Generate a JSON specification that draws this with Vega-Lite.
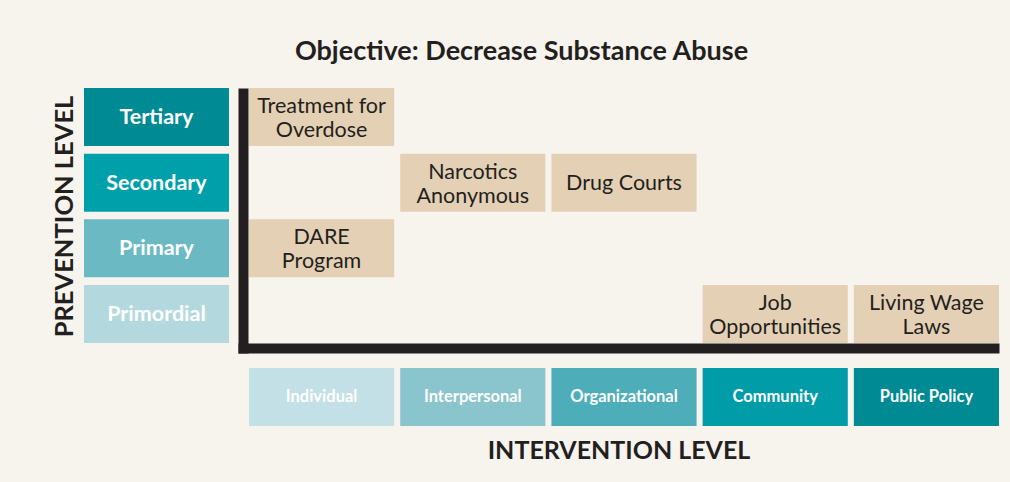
{
  "$schema": "https://vega.github.io/schema/vega-lite/v6.json",
  "width": 761,
  "height": 265,
  "autosize": {"type": "none"},
  "padding": {"left": 238, "top": 88, "right": 11, "bottom": 129},
  "background": "#f7f4ee",
  "config": {"view": {"stroke": null}, "font": "Lato"},
  "title": {
    "text": "Objective: Decrease Substance Abuse",
    "font": "Lato",
    "fontSize": 27,
    "fontWeight": "bold",
    "color": "#231f20",
    "anchor": "middle",
    "dx": -97,
    "offset": 22
  },
  "datasets": {
    "cells": [
      {"intervention": "Individual", "prevention": "Tertiary", "label": "Treatment for\nOverdose"},
      {"intervention": "Interpersonal", "prevention": "Secondary", "label": "Narcotics\nAnonymous"},
      {"intervention": "Organizational", "prevention": "Secondary", "label": "Drug Courts"},
      {"intervention": "Individual", "prevention": "Primary", "label": "DARE\nProgram"},
      {"intervention": "Community", "prevention": "Primordial", "label": "Job\nOpportunities"},
      {"intervention": "Public Policy", "prevention": "Primordial", "label": "Living Wage\nLaws"}
    ],
    "prevention": [
      {"level": "Tertiary"},
      {"level": "Secondary"},
      {"level": "Primary"},
      {"level": "Primordial"}
    ],
    "intervention": [
      {"level": "Individual"},
      {"level": "Interpersonal"},
      {"level": "Organizational"},
      {"level": "Community"},
      {"level": "Public Policy"}
    ]
  },
  "layer": [
    {
      "data": {"name": "cells"},
      "encoding": {
        "x": {
          "field": "intervention",
          "type": "nominal",
          "scale": {
            "domain": ["Individual", "Interpersonal", "Organizational", "Community", "Public Policy"],
            "paddingInner": 0.04,
            "paddingOuter": 0.0364,
            "align": 1
          },
          "axis": {
            "orient": "bottom",
            "offset": -5,
            "domain": true,
            "domainColor": "#231f20",
            "domainWidth": 10,
            "domainCap": "butt",
            "labels": false,
            "ticks": false,
            "grid": false,
            "title": "INTERVENTION LEVEL",
            "titleFont": "Lato",
            "titleFontSize": 25,
            "titleFontWeight": "bold",
            "titleColor": "#231f20",
            "titlePadding": 90
          }
        },
        "y": {
          "field": "prevention",
          "type": "nominal",
          "scale": {
            "domain": ["Tertiary", "Secondary", "Primary", "Primordial"],
            "paddingInner": 0.117,
            "paddingOuter": 0.0761,
            "align": 0
          },
          "axis": {
            "orient": "left",
            "offset": -5,
            "domain": true,
            "domainColor": "#231f20",
            "domainWidth": 10,
            "domainCap": "butt",
            "labels": false,
            "ticks": false,
            "grid": false,
            "title": "PREVENTION LEVEL",
            "titleFont": "Lato",
            "titleFontSize": 25.5,
            "titleFontWeight": "bold",
            "titleColor": "#231f20",
            "titlePadding": 166,
            "titleY": 128
          }
        }
      },
      "layer": [
        {"mark": {"type": "rect", "color": "#e4d0b4"}},
        {
          "transform": [{"filter": "indexof(datum.label, '\\n') >= 0"}],
          "mark": {"type": "text", "lineBreak": "\n", "fontSize": 21.5, "lineHeight": 24, "dy": -10, "color": "#231f20", "font": "Lato"},
          "encoding": {"text": {"field": "label", "type": "nominal"}}
        },
        {
          "transform": [{"filter": "indexof(datum.label, '\\n') < 0"}],
          "mark": {"type": "text", "fontSize": 21.5, "dy": 1, "color": "#231f20", "font": "Lato"},
          "encoding": {"text": {"field": "label", "type": "nominal"}}
        }
      ]
    },
    {
      "data": {"name": "prevention"},
      "encoding": {
        "x": {
          "datum": "Prevention",
          "type": "nominal",
          "scale": {"type": "band", "domain": ["Prevention"], "range": [-154, -9], "paddingInner": 0, "paddingOuter": 0},
          "axis": null
        },
        "y": {
          "field": "level",
          "type": "nominal",
          "scale": {
            "domain": ["Tertiary", "Secondary", "Primary", "Primordial"],
            "paddingInner": 0.117,
            "paddingOuter": 0.0761,
            "align": 0
          },
          "axis": null
        }
      },
      "layer": [
        {
          "mark": {"type": "rect"},
          "encoding": {
            "color": {
              "field": "level",
              "type": "nominal",
              "scale": {
                "domain": ["Tertiary", "Secondary", "Primary", "Primordial", "Individual", "Interpersonal", "Organizational", "Community", "Public Policy"],
                "range": ["#008a94", "#00a0ab", "#6bb9c3", "#b3d9df", "#c2e0e5", "#8ac4cd", "#4daeba", "#009da9", "#008a94"]
              },
              "legend": null
            }
          }
        },
        {
          "mark": {"type": "text", "fontSize": 21.5, "fontWeight": "bold", "dy": 1, "color": "#ffffff", "font": "Lato"},
          "encoding": {"text": {"field": "level", "type": "nominal"}}
        }
      ]
    },
    {
      "data": {"name": "intervention"},
      "encoding": {
        "x": {
          "field": "level",
          "type": "nominal",
          "scale": {
            "domain": ["Individual", "Interpersonal", "Organizational", "Community", "Public Policy"],
            "paddingInner": 0.04,
            "paddingOuter": 0.0364,
            "align": 1
          },
          "axis": null
        },
        "y": {
          "datum": "Intervention",
          "type": "nominal",
          "scale": {"type": "band", "domain": ["Intervention"], "range": [280, 338], "paddingInner": 0, "paddingOuter": 0},
          "axis": null
        }
      },
      "layer": [
        {
          "mark": {"type": "rect"},
          "encoding": {
            "color": {
              "field": "level",
              "type": "nominal",
              "scale": {
                "domain": ["Tertiary", "Secondary", "Primary", "Primordial", "Individual", "Interpersonal", "Organizational", "Community", "Public Policy"],
                "range": ["#008a94", "#00a0ab", "#6bb9c3", "#b3d9df", "#c2e0e5", "#8ac4cd", "#4daeba", "#009da9", "#008a94"]
              },
              "legend": null
            }
          }
        },
        {
          "mark": {"type": "text", "fontSize": 16.5, "fontWeight": "bold", "color": "#ffffff", "font": "Lato"},
          "encoding": {"text": {"field": "level", "type": "nominal"}}
        }
      ]
    }
  ],
  "resolve": {
    "scale": {"x": "independent", "y": "independent"},
    "axis": {"x": "independent", "y": "independent"}
  }
}
